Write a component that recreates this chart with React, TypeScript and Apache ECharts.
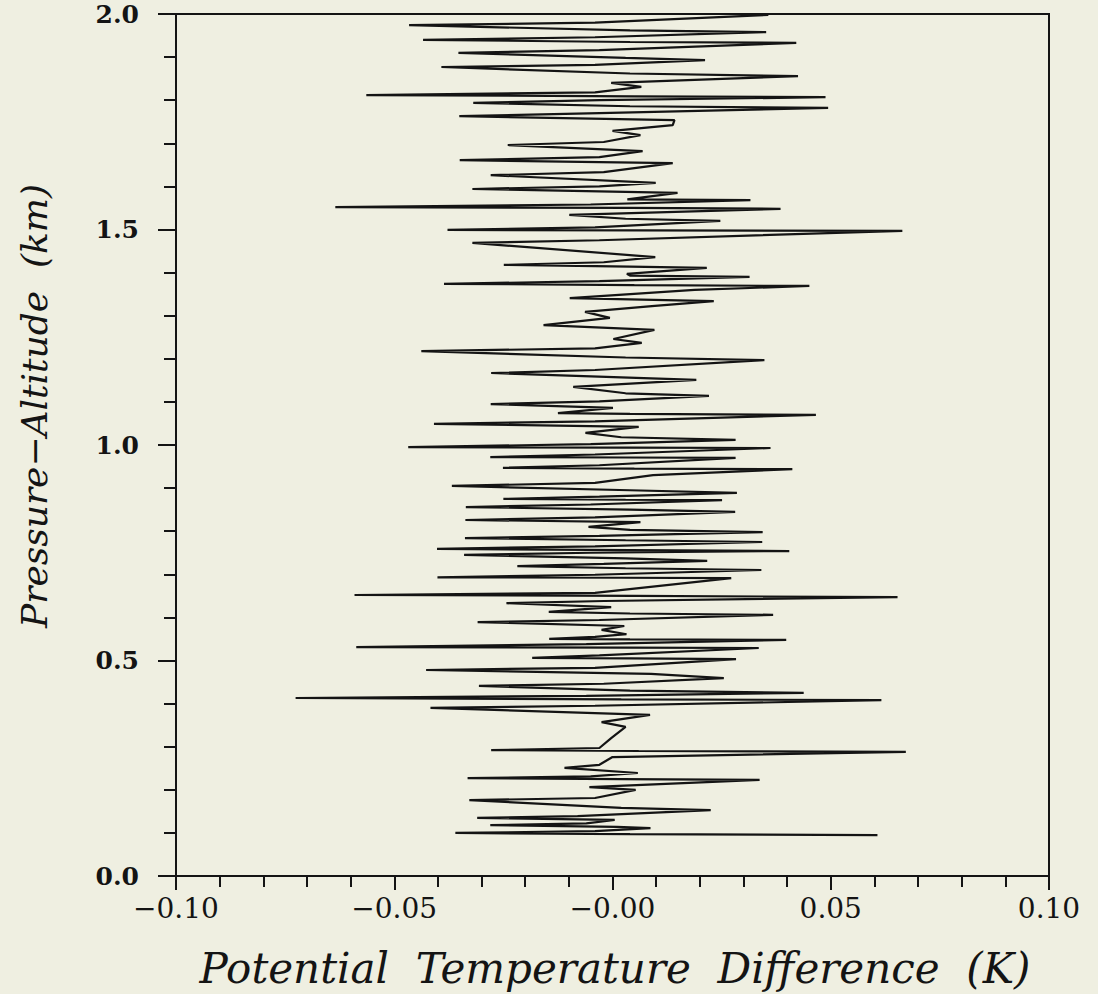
import React, { useEffect, useRef } from "react";
import * as echarts from "echarts";

// [potential temperature difference (K), pressure-altitude (km)], in trace order
const profilePoints: [number, number][] = [
  [0.0607, 0.095], [0.004, 0.097], [-0.036, 0.100], [-0.004, 0.104], [0.0087, 0.111],
  [0.001, 0.114], [-0.028, 0.118], [-0.006, 0.122], [0.0005, 0.130], [-0.031, 0.135],
  [-0.008, 0.139], [0.0225, 0.153], [0.002, 0.158], [-0.0328, 0.176], [-0.004, 0.181],
  [0.0053, 0.200], [-0.0053, 0.206], [0.0337, 0.223], [0.002, 0.225], [-0.0332, 0.227],
  [-0.005, 0.231], [0.0058, 0.239], [-0.011, 0.251], [-0.003, 0.258], [0.0, 0.276],
  [0.0672, 0.288], [0.006, 0.290], [-0.0278, 0.292], [-0.003, 0.297], [-0.0003, 0.320],
  [0.003, 0.346], [-0.0025, 0.357], [0.0086, 0.374], [-0.0417, 0.390], [-0.004, 0.395],
  [0.0616, 0.408], [0.002, 0.410], [-0.0726, 0.413], [-0.006, 0.418], [0.0438, 0.425],
  [0.004, 0.430], [-0.0306, 0.441], [-0.002, 0.446], [0.0255, 0.459], [0.0088, 0.469],
  [-0.0427, 0.478], [-0.004, 0.483], [0.0283, 0.503], [0.004, 0.505], [-0.0184, 0.506],
  [-0.003, 0.512], [0.0335, 0.529], [0.003, 0.530], [-0.0587, 0.531], [-0.006, 0.538],
  [0.0398, 0.548], [0.004, 0.549], [-0.0145, 0.550], [-0.004, 0.555], [0.0032, 0.561],
  [-0.0025, 0.571], [0.0027, 0.580], [-0.0309, 0.589], [-0.003, 0.594], [0.0368, 0.606],
  [0.004, 0.609], [-0.0146, 0.613], [-0.0003, 0.624], [-0.0243, 0.633], [-0.002, 0.638],
  [0.0653, 0.647], [0.005, 0.650], [-0.0591, 0.652], [-0.004, 0.657], [0.0272, 0.691],
  [0.002, 0.692], [-0.0401, 0.693], [-0.004, 0.699], [0.0341, 0.710], [0.003, 0.714],
  [-0.0218, 0.719], [-0.002, 0.724], [0.0217, 0.731], [0.003, 0.737], [-0.034, 0.745],
  [-0.005, 0.750], [0.0405, 0.754], [0.004, 0.756], [-0.0402, 0.759], [-0.004, 0.765],
  [0.0343, 0.775], [0.003, 0.779], [-0.0338, 0.784], [-0.003, 0.789], [0.0344, 0.798],
  [0.004, 0.803], [-0.0055, 0.810], [0.0064, 0.821], [-0.0337, 0.826], [-0.004, 0.832],
  [0.0281, 0.845], [0.004, 0.850], [-0.0336, 0.856], [-0.005, 0.862], [0.0251, 0.872],
  [0.003, 0.873], [-0.025, 0.875], [-0.003, 0.880], [0.0285, 0.889], [0.004, 0.895],
  [-0.0368, 0.905], [-0.004, 0.912], [0.0093, 0.930], [0.0412, 0.944], [0.005, 0.945],
  [-0.0251, 0.947], [-0.003, 0.953], [0.0282, 0.970], [0.003, 0.971], [-0.028, 0.972],
  [-0.004, 0.978], [0.0362, 0.993], [0.004, 0.994], [-0.0468, 0.995], [-0.005, 1.002],
  [0.0282, 1.012], [0.002, 1.018], [-0.0062, 1.028], [0.006, 1.042], [-0.0409, 1.049],
  [-0.004, 1.055], [0.0466, 1.070], [0.004, 1.072], [-0.0125, 1.074], [0.0001, 1.086],
  [-0.0279, 1.095], [-0.003, 1.101], [0.0221, 1.114], [0.003, 1.120], [-0.009, 1.135],
  [0.0192, 1.151], [0.002, 1.157], [-0.0278, 1.167], [-0.004, 1.174], [0.0348, 1.197],
  [0.003, 1.203], [-0.0438, 1.218], [-0.004, 1.224], [0.0067, 1.237], [0.0002, 1.246],
  [0.0096, 1.267], [-0.0158, 1.278], [-0.0006, 1.295], [-0.0063, 1.309], [0.0097, 1.323],
  [0.0232, 1.334], [-0.0098, 1.341], [0.0188, 1.360], [0.0451, 1.369], [0.005, 1.371],
  [-0.0386, 1.374], [-0.003, 1.380], [0.0314, 1.390], [0.004, 1.393], [0.0033, 1.397],
  [0.0216, 1.411], [0.004, 1.414], [-0.0249, 1.418], [-0.002, 1.424], [0.0098, 1.436],
  [-0.0321, 1.469], [-0.003, 1.475], [0.0664, 1.497], [0.006, 1.498], [-0.0378, 1.499],
  [-0.004, 1.505], [0.0247, 1.520], [0.003, 1.525], [-0.0099, 1.534], [0.0385, 1.548],
  [0.004, 1.550], [-0.0635, 1.552], [-0.005, 1.558], [0.0316, 1.568], [0.0034, 1.570],
  [0.0149, 1.585], [-0.0321, 1.594], [-0.003, 1.600], [0.0099, 1.608], [-0.0279, 1.626],
  [-0.002, 1.633], [0.0138, 1.654], [-0.035, 1.661], [-0.003, 1.668], [0.0069, 1.682],
  [-0.024, 1.696], [-0.002, 1.703], [0.0064, 1.719], [0.0, 1.729], [0.0138, 1.742],
  [0.0142, 1.754], [-0.0351, 1.763], [-0.003, 1.770], [0.0494, 1.782], [0.004, 1.786],
  [-0.0319, 1.794], [-0.003, 1.800], [0.0488, 1.807], [0.005, 1.809], [-0.0564, 1.812],
  [-0.004, 1.818], [0.0066, 1.831], [-0.0003, 1.840], [0.0425, 1.856], [0.004, 1.862],
  [-0.0392, 1.877], [-0.004, 1.882], [0.0212, 1.893], [0.003, 1.898], [-0.0353, 1.910],
  [-0.003, 1.916], [0.0421, 1.933], [0.004, 1.935], [-0.0434, 1.940], [-0.004, 1.946],
  [0.0352, 1.958], [0.004, 1.962], [-0.0466, 1.974], [-0.004, 1.980], [0.0357, 1.998],
];

const xTickValues = [-0.1, -0.05, 0, 0.05, 0.1];
const xTickLabels = ["\u22120.10", "\u22120.05", "\u22120.00", "0.05", "0.10"];
const yTickLabels = ["0.0", "0.5", "1.0", "1.5", "2.0"];

const xTitle = "Potential  Temperature  Difference  (K)";
const yTitle = "Pressure\u2212Altitude  (km)";

const INK = "#141414";
const BG = "#efefe1";

export default function App() {
  const ref = useRef<HTMLDivElement>(null);

  useEffect(() => {
    document.body.style.margin = "0";
    if (!ref.current) return;
    const chart = echarts.init(ref.current, undefined, { renderer: "svg" });
    chart.setOption({
      animation: false,
      backgroundColor: BG,
      grid: {
        left: 176,
        top: 14,
        width: 873,
        height: 862,
        show: true,
        borderColor: INK,
        borderWidth: 2,
        backgroundColor: "transparent",
      },
      xAxis: {
        type: "value",
        min: -0.1,
        max: 0.1,
        interval: 0.05,
        axisLine: { show: true, onZero: false, lineStyle: { color: INK, width: 2 } },
        axisTick: { show: true, inside: false, length: 14, lineStyle: { color: INK, width: 2 } },
        minorTick: { show: true, splitNumber: 5, length: 11, lineStyle: { color: INK, width: 2 } },
        splitLine: { show: false },
        minorSplitLine: { show: false },
        axisLabel: {
          margin: 18,
          color: INK,
          fontFamily: "DejaVu Serif",
          fontSize: 28,
          formatter: (v: number) => {
            const i = xTickValues.findIndex((t) => Math.abs(t - v) < 1e-9);
            return i >= 0 ? xTickLabels[i] : "";
          },
        },
      },
      yAxis: {
        type: "value",
        min: 0,
        max: 2,
        interval: 0.5,
        axisLine: { show: true, onZero: false, lineStyle: { color: INK, width: 2 } },
        axisTick: { show: true, inside: false, length: 18, lineStyle: { color: INK, width: 2 } },
        minorTick: { show: true, splitNumber: 5, length: 12, lineStyle: { color: INK, width: 2 } },
        splitLine: { show: false },
        minorSplitLine: { show: false },
        axisLabel: {
          margin: 37,
          color: INK,
          fontFamily: "DejaVu Serif",
          fontWeight: "bold",
          fontSize: 25,
          formatter: (v: number) => yTickLabels[Math.round(v / 0.5)] ?? "",
        },
      },
      graphic: [
        {
          type: "text",
          x: 615,
          y: 968,
          style: {
            text: xTitle,
            fill: INK,
            font: 'italic 42px "DejaVu Serif"',
            align: "center",
            verticalAlign: "middle",
          },
        },
        {
          type: "text",
          x: 34,
          y: 406,
          rotation: Math.PI / 2,
          style: {
            text: yTitle,
            fill: INK,
            font: 'italic 36px "DejaVu Serif"',
            align: "center",
            verticalAlign: "middle",
          },
        },
      ],
      series: [
        {
          type: "line",
          data: profilePoints,
          showSymbol: false,
          symbol: "none",
          clip: true,
          lineStyle: { color: INK, width: 2.2 },
        },
      ],
    });
    return () => chart.dispose();
  }, []);

  return (
    <div
      ref={ref}
      style={{ position: "fixed", left: 0, top: 0, width: 1098, height: 994 }}
    />
  );
}
